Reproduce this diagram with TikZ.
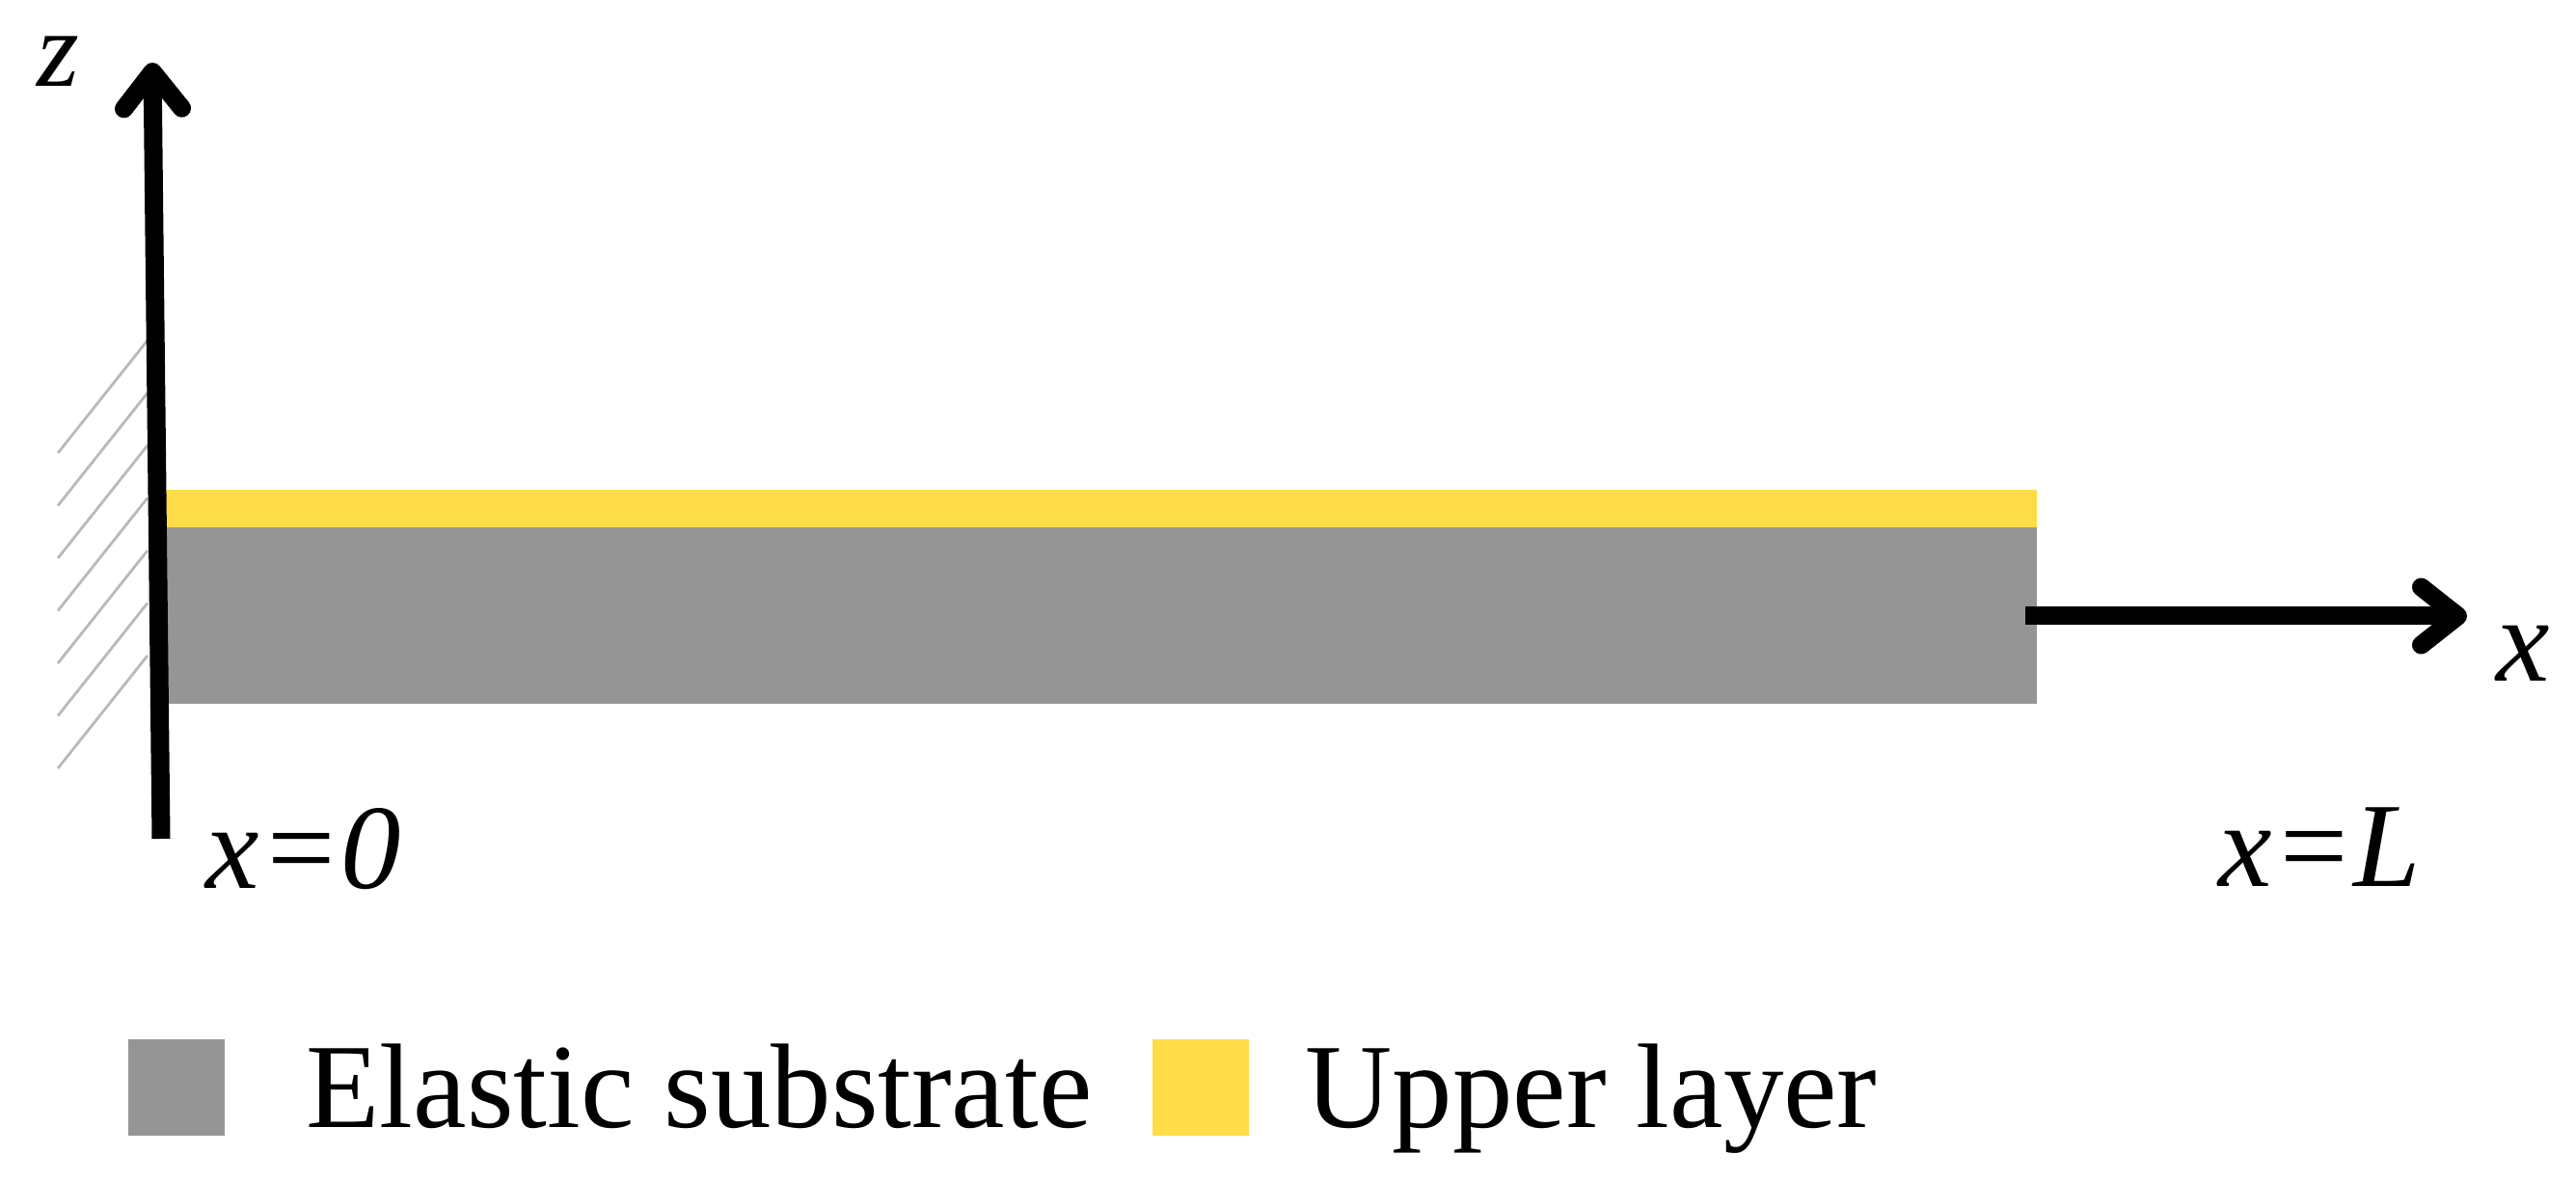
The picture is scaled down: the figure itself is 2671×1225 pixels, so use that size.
\documentclass[tikz,border=0pt]{standalone}
\usepackage{fontspec}
\setmainfont{Liberation Serif}
\usetikzlibrary{arrows.meta}
\definecolor{substrate}{RGB}{149,149,149}
\definecolor{upper}{RGB}{255,221,72}
\definecolor{hatchgray}{RGB}{185,185,185}
\begin{document}
\begin{tikzpicture}[x=0.01cm,y=-0.01cm,
  lbl/.style={inner sep=0pt, font=\fontsize{35.5}{40}\selectfont\itshape},
  leg/.style={inner sep=0pt, font=\fontsize{35.5}{40}\selectfont},
  axisarrow/.style={line width=0.19cm, -{Straight Barb[length=0.38cm,width=0.6cm,round]}},
  hatchline/.style={draw=hatchgray, line width=0.028cm},
  swatch/.style={minimum width=1cm, minimum height=1cm, inner sep=0pt}]
\useasboundingbox (0,0) rectangle (2671,1225);
% wall hatching
\foreach \k in {0,...,6}
  \draw[hatchline] (60,470+54.5*\k) -- (153,353+54.5*\k);
% beam
\fill[substrate] (160,547) rectangle (2112,730);
\fill[upper] (160,508) rectangle (2112,547);
% axes
\coordinate (zbot) at (167,870);
\coordinate (ztop) at (158,65);
\coordinate (xstart) at (2100,639);
\coordinate (xend) at (2558,639);
\draw[axisarrow] (zbot) -- (ztop);
\draw[axisarrow] (xstart) -- (xend);
% labels
\node[lbl, font=\fontsize{32}{36}\selectfont\itshape, anchor=base west] (zlab) at (38,90) {z};
\node[lbl, anchor=base west] (xlab) at (2588,707) {x};
\node[lbl, anchor=base west] (x0) at (213,922) {x=0};
\node[lbl, anchor=base west] (xL) at (2300,920) {x=L};
% legend
\node[swatch, fill=substrate] (sw1) at (183,1128) {};
\node[leg, anchor=base west] (leg1) at (317,1170) {Elastic substrate};
\node[swatch, fill=upper] (sw2) at (1245,1128) {};
\node[leg, anchor=base west] (leg2) at (1353,1170) {Upper layer};
\end{tikzpicture}
\end{document}
